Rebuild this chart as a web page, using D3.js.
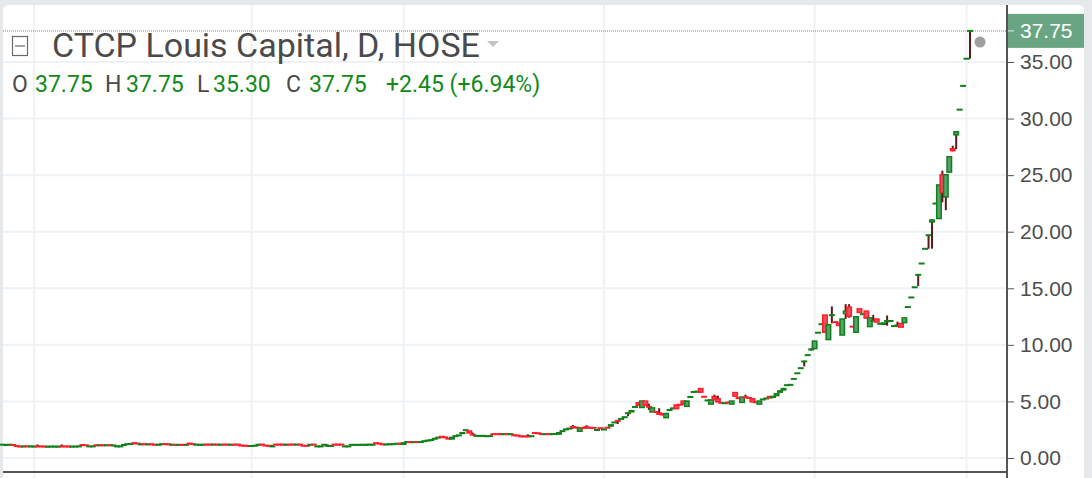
<!DOCTYPE html>
<html lang="en">
<head>
<meta charset="utf-8">
<title>CTCP Louis Capital, D, HOSE</title>
<script src="https://cdn.jsdelivr.net/npm/d3@7"></script>
<style>
  html, body { margin: 0; padding: 0; background: #e6e9ec; }
  svg { display: block; }
</style>
</head>
<body>
<div id="chart"></div>
<script>
var WIDTH = 1092;
var HEIGHT = 478;

// daily bars: [open, close] when there is no wick, else [open, high, low, close]
var flatBars = [
  [1.15,1.2],[1.1,1.2],[1.15,1.2],[1.2,1.1],[1.1,1.0],[1.02,1.0],[1.0,1.05],[1.05,1.0],[1.0,1.05],[1.0,1.02],
  [1.05,1.2,1.0,1.0],[1.05,1.0],[1.02,1.0],[1.0,1.0],[1.0,1.02],[1.0,1.02],[1.0,1.0],[1.05,1.2,1.0,1.0],[1.05,1.0],[1.02,1.0],
  [1.0,1.02],[1.0,1.02],[1.0,1.05],[1.2,1.1],[1.15,1.1],[1.0,1.05],[1.0,1.05],[1.15,1.1],[1.1,1.15],[1.15,1.1],
  [1.1,1.15],[1.15,1.12],[1.1,1.12],[1.0,1.05],[1.0,1.05],[1.1,1.2],[1.2,1.25],[1.22,1.25],[1.35,1.28],[1.3,1.25],
  [1.15,1.25],[1.25,1.2],[1.18,1.22],[1.25,1.18],[1.2,1.15],[1.15,1.18],[1.2,1.25],[1.25,1.2],[1.22,1.2],[1.15,1.18],
  [1.18,1.15],[1.15,1.17],[1.18,1.15],[1.15,1.17],[1.3,1.32,1.2,1.25],[1.25,1.2],[1.15,1.2],[1.15,1.18],
  [1.17,1.17],[1.2,1.17],[1.2,1.17],[1.17,1.2],[1.2,1.17],[1.17,1.17],[1.2,1.17],[1.2,1.17],[1.17,1.17],[1.2,1.17],
  [1.2,1.17],[1.15,1.05],[1.12,1.05],[1.07,1.05],[1.02,1.1],[1.05,1.12],[1.17,1.17],[1.2,1.17],[1.15,1.05],[1.1,1.05],
  [1.0,1.15,1.0,1.05],[1.2,1.17],[1.2,1.17],[1.2,1.17],[1.17,1.17],[1.2,1.17],[1.2,1.17],[1.17,1.2],[1.2,1.17],[1.12,1.05],
  [1.1,1.05],[1.17,1.17],[1.2,1.17],[1.0,1.05],[1.0,1.05],[1.17,1.17],[1.05,1.2,1.0,1.1],[1.02,1.1],[1.2,1.17],[1.2,1.17],
  [1.2,1.17],[1.0,1.05],[1.0,1.05],[1.15,1.17],[1.15,1.17],[1.15,1.17],[1.17,1.17],[1.15,1.17],[1.17,1.2],[1.17,1.17],
  [1.35,1.27],[1.3,1.25],[1.25,1.15],[1.2,1.2],[1.2,1.22],[1.15,1.3],[1.2,1.32],[1.32,1.2]
];

var firstRiseBars = [
  [1.15,1.4],[1.4,1.42],[1.42,1.4],[1.4,1.4],[1.42,1.4],[1.4,1.42],[1.45,1.52],[1.5,1.58],[1.55,1.62],[1.65,1.75],
  [1.75,1.85],[1.95,1.8],[1.9,1.75],[1.8,1.62],[1.62,1.88],[1.88,1.98],[1.95,2.05],[2.1,2.3],[2.45,2.47],[2.45,2.15],
  [2.08,2.25,2.0,2.05],[1.92,2.0],[1.9,1.98],[1.92,2.0],[1.9,1.95],[1.92,1.97],[2.12,2.1],[2.12,2.1],[2.12,2.1],[2.1,2.12],
  [2.12,2.1],[2.1,2.12],[2.1,1.92],[2.05,1.92],[1.92,1.9],[1.92,1.9],[1.92,2.1,1.9,1.9],[1.88,1.98],[2.3,2.12],[2.25,2.12],
  [2.12,2.1],[2.1,2.12],[2.12,2.1],[2.1,2.12],[2.12,2.12],[2.05,2.3],[2.3,2.45],[2.48,2.58],[2.55,2.65],[2.8,2.92,2.6,2.68],
  [2.72,2.65],[2.3,2.72],[2.7,2.62],[2.8,2.9,2.6,2.66],[2.68,2.65],[2.68,2.65],[2.4,2.55],[2.65,2.62]
];

var baseBars = [
  [2.45,2.58],[2.75,2.6],[2.75,3.0],[3.08,3.2],[3.35,3.38,3.0,3.2],[3.4,3.5],[3.6,3.62],[3.9,4.05,3.7,4.02],[4.02,4.25],[4.5,4.52],
  [4.95,4.6],[4.4,5.1],[5.1,4.6],[4.55,4.8,4.25,4.5],[4.0,4.5],[4.15,4.0],[4.05,4.4,3.9,3.8],[3.95,3.75],[3.5,4.0],[4.22,4.25],
  [4.38,4.4],[4.75,4.3],[4.72,4.7],[5.1,4.7],[4.5,5.1],[5.38,5.4],[5.82,5.85],[5.85,5.88],[6.2,5.75],[5.42,5.4],
  [5.08,5.1],[4.7,5.2],[5.5,5.6,5.1,5.1],[5.3,5.5,5.0,4.9],[4.9,4.85],[4.83,4.85],[4.92,4.9],[4.7,5.1],[5.85,5.4],[5.4,5.2],
  [4.85,5.45],[5.45,5.6,5.3,5.3],[5.32,5.3],[5.3,4.9],[5.0,4.85],[4.7,5.1],[5.1,5.25],[5.22,5.3],[5.5,5.25],[5.3,5.5],
  [5.45,5.75],[5.75,6.0],[5.95,6.2],[6.42,6.45],[6.45,6.48]
];

var rallyBars = [
  [6.98,7.0],[7.48,7.5],[7.93,7.95],[8.52,8.6,8.1,8.55],[9.08,9.1],[9.58,9.7,9.5,9.6],[9.6,10.4],[11.05,11.1],[11.8,11.85],[12.7,11.05],
  [10.4,11.85],[12.6,13.4,11.9,12.65],[12.02,12.0],[12.0,11.65],[10.8,12.35],[12.7,13.6,12.3,13.05],[13.4,13.6,12.4,12.45],[11.62,11.6],[11.05,12.55],[13.25,12.8],
  [12.7,12.72],[13.05,12.3],[11.55,12.45],[12.1,12.65,12.1,12.15],[12.35,11.95],[11.85,11.87],[11.75,12.0],[12.0,12.6,11.7,12.2],[12.1,12.12],[11.65,11.67],
  [11.7,12.05,11.6,11.72],[11.95,11.5],[11.9,12.45],[13.33,13.35],[14.18,14.2],[15.08,15.1]
];

var spikeBars = [
  [16.18,16.2,15.2,16.2],[17.18,17.2],[18.48,18.5],[19.68,19.7,18.5,19.7],[20.8,21.1,18.5,21.1],[22.48,22.5],[21.1,24.2],[25.1,25.4,22.6,23.4],
  [23.0,25.1,21.9,25.1],[25.2,26.7],[27.4,27.6,27.1,27.1],[28.5,28.9,27.3,28.9],[30.78,30.8],[32.88,32.9],[35.28,35.3],[37.75,37.75,35.3,37.75]
];

var yTicks = [0, 5, 10, 15, 20, 25, 30, 35];
var gridBarIdx = [9, 72, 116, 174, 235, 279];

var title = "CTCP Louis Capital, D, HOSE";
var legendKeys = ["O", "H", "L", "C"];
var legendVals = ["37.75", "37.75", "35.30", "37.75"];
var legendChange = "+2.45 (+6.94%)";
var lastPrice = 37.75;

var GREEN = "#11801a", GREEN_FILL = "#5a9f6e";
var RED = "#ff1e2d", RED_FILL = "#e8525f";
var WICK = "#5e1b1b";
var GRID = "#eef2f5";

var bars = flatBars.concat(firstRiseBars, baseBars, rallyBars, spikeBars).map(function(b, i) {
    if (b.length == 2) {
        return {i: i, o: b[0], h: Math.max(b[0], b[1]), l: Math.min(b[0], b[1]), c: b[1]};
    }
    return {i: i, o: b[0], h: b[1], l: b[2], c: b[3]};
});

var AXIS_X = 1007;

var x = d3.scaleLinear().domain([0, bars.length - 1]).range([3, 970]);
var y = d3.scaleLinear().domain([0, 35]).range([458, 62]);

var svg = d3.select("#chart").append("svg")
    .attr("width", WIDTH)
    .attr("height", HEIGHT);

// white panel, rounded at the top
var L = 3, R = 1084, T = 5, r = 6;
svg.append("path")
    .attr("d", "M" + L + "," + HEIGHT + " L" + L + "," + (T + r) + " Q" + L + "," + T + " " + (L + r) + "," + T +
        " L" + (R - r) + "," + T + " Q" + R + "," + T + " " + R + "," + (T + r) + " L" + R + "," + HEIGHT + " Z")
    .attr("fill", "#fff");

// grid
svg.append("g").selectAll("line").data(yTicks).join("line")
    .attr("x1", L).attr("x2", AXIS_X)
    .attr("y1", function(d) { return y(d); }).attr("y2", function(d) { return y(d); })
    .attr("stroke", GRID).attr("stroke-width", 2);
svg.append("g").selectAll("line").data(gridBarIdx).join("line")
    .attr("x1", function(d) { return x(d); }).attr("x2", function(d) { return x(d); })
    .attr("y1", T).attr("y2", HEIGHT)
    .attr("stroke", GRID).attr("stroke-width", 2);

// last price dotted line
svg.append("line")
    .attr("x1", L).attr("x2", AXIS_X)
    .attr("y1", y(lastPrice)).attr("y2", y(lastPrice))
    .attr("stroke", "#8dbf9c").attr("stroke-width", 1.5)
    .attr("stroke-dasharray", "1,1");

// candles
var BW = 6;
var g = svg.append("g");
bars.forEach(function(d) {
    var up = d.c >= d.o;
    var cx = x(d.i);
    if (d.h > Math.max(d.o, d.c) || d.l < Math.min(d.o, d.c)) {
        g.append("rect")
            .attr("x", cx - 1).attr("width", 2)
            .attr("y", y(d.h)).attr("height", Math.max(1, y(d.l) - y(d.h)))
            .attr("fill", WICK);
    }
    var top = y(Math.max(d.o, d.c)), bot = y(Math.min(d.o, d.c));
    var h = bot - top;
    if (h < 2) { top = (top + bot) / 2 - 1; h = 2; }
    g.append("rect")
        .attr("x", cx - BW / 2).attr("width", BW)
        .attr("y", top).attr("height", h)
        .attr("fill", up ? GREEN : RED);
    if (h > 3) {
        g.append("rect")
            .attr("x", cx - BW / 2 + 1.5).attr("width", BW - 3)
            .attr("y", top + 1.5).attr("height", h - 3)
            .attr("fill", up ? GREEN_FILL : RED_FILL);
    }
});

// dot next to last bar
svg.append("circle")
    .attr("cx", 980).attr("cy", 42).attr("r", 5.5)
    .attr("fill", "#9e9e9e");

// legend: title row
var icon = svg.append("g").attr("stroke", "#6a6a6a").attr("fill", "none").attr("stroke-width", 1.2);
icon.append("rect").attr("x", 12.5).attr("y", 36.5).attr("width", 15).attr("height", 19);
icon.append("line").attr("x1", 15).attr("x2", 25).attr("y1", 46).attr("y2", 46);

var tt = svg.append("text")
    .attr("x", 52).attr("y", 57)
    .attr("font-family", "Roboto, 'Liberation Sans', sans-serif")
    .attr("font-size", 32)
    .attr("fill", "#4a4a4a")
    .text(title);
var tw = tt.node().getComputedTextLength();
tt.attr("font-size", 32 * 428 / tw);

svg.append("path")
    .attr("d", "M487,41 L499,41 L493,47 Z")
    .attr("fill", "#c4c4c4");

// legend: OHLC row
var keyX = [12, 105, 197, 286];
var valX = [35, 126, 213, 309];
var lg = svg.append("g")
    .attr("font-family", "Roboto, 'Liberation Sans', sans-serif")
    .attr("font-size", 23);
legendKeys.forEach(function(k, i) {
    lg.append("text").attr("x", keyX[i]).attr("y", 92).attr("fill", "#4a4a4a").text(k);
    lg.append("text").attr("x", valX[i]).attr("y", 92).attr("fill", "#12891a").text(legendVals[i]);
});
lg.append("text").attr("x", 386).attr("y", 92).attr("fill", "#12891a").text(legendChange);

// axes
svg.append("line")
    .attr("x1", L).attr("x2", AXIS_X)
    .attr("y1", 472).attr("y2", 472)
    .attr("stroke", "#555").attr("stroke-width", 2);
svg.append("line")
    .attr("x1", AXIS_X).attr("x2", AXIS_X)
    .attr("y1", T).attr("y2", HEIGHT)
    .attr("stroke", "#555").attr("stroke-width", 2);

var yAxis = svg.append("g")
    .attr("transform", "translate(" + AXIS_X + ",0)")
    .call(d3.axisRight(y).tickValues(yTicks).tickFormat(d3.format(".2f")).tickSize(7).tickPadding(6));
yAxis.select(".domain").remove();
yAxis.selectAll(".tick line").attr("stroke", "#555");
yAxis.selectAll(".tick text")
    .attr("font-family", "'Liberation Sans', Arial, sans-serif")
    .attr("font-size", 21)
    .attr("fill", "#4d4d4d");

// last price label
svg.append("rect")
    .attr("x", AXIS_X + 1).attr("y", y(lastPrice) - 17)
    .attr("width", R - AXIS_X - 1).attr("height", 34)
    .attr("fill", "#6aa583");
svg.append("line")
    .attr("x1", AXIS_X + 1).attr("x2", AXIS_X + 7)
    .attr("y1", y(lastPrice)).attr("y2", y(lastPrice))
    .attr("stroke", "#e6efe9").attr("stroke-width", 1);
svg.append("text")
    .attr("x", AXIS_X + 13).attr("y", y(lastPrice)).attr("dy", "0.35em")
    .attr("font-family", "'Liberation Sans', Arial, sans-serif")
    .attr("font-size", 21)
    .attr("fill", "#fff")
    .text(d3.format(".2f")(lastPrice));
</script>
</body>
</html>
